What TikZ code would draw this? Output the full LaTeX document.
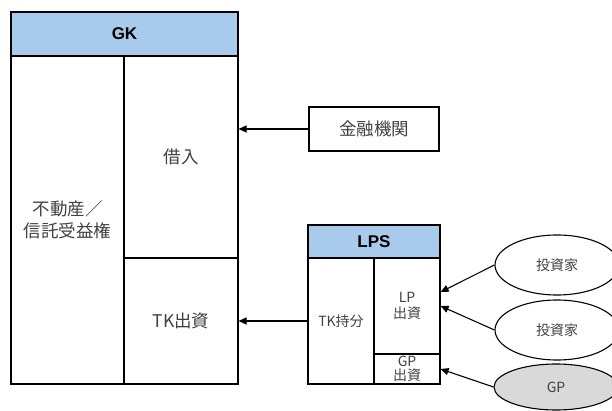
\documentclass[tikz,border=0pt]{standalone}
\usepackage{fontspec}
\setsansfont{Liberation Sans}
\newfontfamily\jpfont{Noto Sans CJK JP}
\usetikzlibrary{arrows.meta,positioning,shapes.geometric}
\definecolor{hdrblue}{HTML}{A9CBEB}
\definecolor{txtgray}{HTML}{404040}
\definecolor{gpgray}{HTML}{D9D9D9}

\begin{document}
\begin{tikzpicture}[x=1pt,y=-1pt,>={Triangle[length=8pt,width=7pt]},
 line width=1.1pt,
 cell/.style={draw,inner sep=0pt,align=center,text=txtgray,font=\jpfont\fontsize{17.5}{22}\selectfont},
 head/.style={draw,fill=hdrblue,inner sep=0pt,font=\sffamily\bfseries\fontsize{17}{18}\selectfont},
 small/.style={cell,font=\jpfont\fontsize{14}{16}\selectfont},
 party/.style={ellipse,draw,inner sep=0pt,minimum width=124pt,minimum height=60pt,text=txtgray,font=\jpfont\fontsize{14}{16}\selectfont}]
\useasboundingbox (0,0) rectangle (612,411);
% GK
\node[head,minimum width=227pt,minimum height=44pt] (gk) at (124.5,34) {GK};
\node[cell,minimum width=113pt,minimum height=328pt] (asset) at (67.5,220) {不動産／\\信託受益権};
\node[cell,minimum width=114pt,minimum height=202pt] (loan) at (181,157) {借入};
\node[cell,minimum width=114pt,minimum height=126pt] (tkin) at (181,321) {TK出資};
% lender
\node[cell,minimum width=130pt,minimum height=44pt] (bank) at (374,129) {金融機関};
% LPS
\node[head,minimum width=132pt,minimum height=33pt] (lps) at (374,241.5) {LPS};
\node[small,minimum width=66pt,minimum height=126pt] (tkshare) at (341,321) {TK持分};
\node[small,minimum width=66pt,minimum height=96pt,font=\jpfont\fontsize{14}{16}\selectfont] (lpin) at (407,306) {LP\\出資};
\node[small,minimum width=66pt,minimum height=30pt,font=\jpfont\fontsize{14}{14}\selectfont] (gpin) at (407,369) {GP\\出資};
% investors
\node[party] (inv1) at (557,265) {投資家};
\node[party] (inv2) at (557,330) {投資家};
\node[party,fill=gpgray,minimum height=46pt] (gp) at (556,387) {GP};
\draw[->] (bank.west) -- (bank.west -| loan.east);
\draw[->] (tkshare.west) -- (tkshare.west -| tkin.east);
\draw[->] (inv1.west) -- ([yshift=14pt]lpin.east);
\draw[->] (inv2.west) -- (lpin.east);
\draw[->] (gp.west) -- (gpin.east);
\end{tikzpicture}
\end{document}
